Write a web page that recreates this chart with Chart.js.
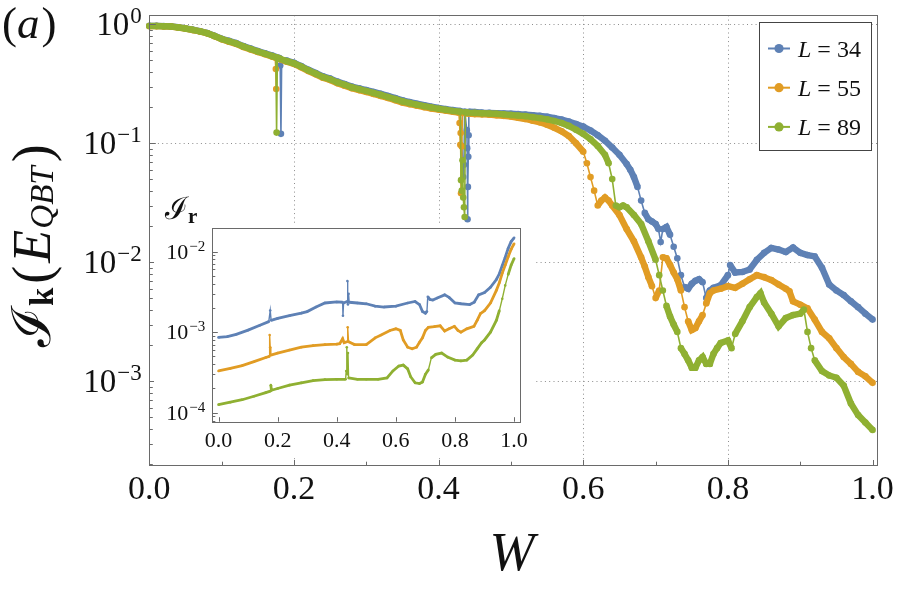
<!DOCTYPE html>
<html>
<head>
<meta charset="utf-8">
<script src="https://cdn.jsdelivr.net/npm/chart.js@4.4.1/dist/chart.umd.min.js"></script>
<style>
  body { margin: 0; background: #fff; }
  #wrap { position: relative; width: 900px; height: 589px; }
  #main { position: absolute; left: 0; top: 0; }
  #inset { position: absolute; left: 154px; top: 224px; }
</style>
</head>
<body>
<div id="wrap">
  <canvas id="main" width="900" height="589"></canvas>
  <canvas id="inset" width="380" height="234"></canvas>
</div>
<script>
/* ---------- data ---------- */
const seriesLabels = ['34', '55', '89'];

// main panel: [W, I_k]
const kBlue = [[0,0.97],[0.01,0.97],[0.02,0.965],[0.03,0.96],[0.04,0.945],[0.05,0.925],[0.06,0.9],[0.07,0.875],[0.08,0.845],[0.09,0.8],[0.1,0.755],[0.11,0.725],[0.12,0.695],[0.13,0.655],[0.14,0.625],[0.15,0.595],[0.16,0.57],[0.17,0.545],[0.18,0.52],[0.181,0.45],[0.182,0.12],[0.183,0.5],[0.19,0.495],[0.2,0.475],[0.21,0.445],[0.22,0.415],[0.23,0.39],[0.24,0.365],[0.25,0.35],[0.26,0.33],[0.27,0.315],[0.28,0.3],[0.29,0.29],[0.3,0.28],[0.31,0.27],[0.32,0.26],[0.33,0.25],[0.34,0.24],[0.35,0.23],[0.36,0.222],[0.37,0.215],[0.38,0.209],[0.39,0.203],[0.4,0.198],[0.41,0.194],[0.42,0.19],[0.43,0.187],[0.434,0.052],[0.435,0.066],[0.436,0.185],[0.439,0.129],[0.4395,0.091],[0.44,0.023],[0.4405,0.043],[0.441,0.077],[0.4415,0.117],[0.442,0.184],[0.45,0.183],[0.46,0.181],[0.47,0.18],[0.48,0.179],[0.49,0.178],[0.5,0.177],[0.51,0.176],[0.52,0.174],[0.53,0.172],[0.54,0.17],[0.55,0.167],[0.56,0.163],[0.57,0.158],[0.58,0.152],[0.59,0.145],[0.6,0.138],[0.61,0.128],[0.62,0.117],[0.63,0.105],[0.64,0.092],[0.65,0.08],[0.66,0.067],[0.665,0.06],[0.67,0.052],[0.675,0.043],[0.68,0.033],[0.685,0.026],[0.69,0.023],[0.695,0.022],[0.7,0.021],[0.704,0.019],[0.707,0.0148],[0.71,0.019],[0.715,0.0198],[0.72,0.017],[0.725,0.0135],[0.73,0.0108],[0.735,0.0078],[0.74,0.0062],[0.745,0.006],[0.75,0.0066],[0.755,0.007],[0.76,0.0072],[0.765,0.0068],[0.77,0.005],[0.775,0.0058],[0.78,0.0061],[0.79,0.0064],[0.8,0.0078],[0.803,0.0095],[0.81,0.0082],[0.82,0.0083],[0.83,0.0087],[0.84,0.0105],[0.85,0.012],[0.86,0.0132],[0.87,0.0128],[0.88,0.0122],[0.89,0.0133],[0.9,0.012],[0.91,0.0115],[0.92,0.0112],[0.93,0.009],[0.94,0.0065],[0.95,0.0058],[0.96,0.0053],[0.97,0.0047],[0.98,0.0042],[0.99,0.0037],[1,0.0033]];
const kOrange = [[0,0.965],[0.01,0.965],[0.02,0.96],[0.03,0.955],[0.04,0.94],[0.05,0.92],[0.06,0.895],[0.07,0.87],[0.08,0.84],[0.09,0.795],[0.1,0.748],[0.11,0.715],[0.12,0.685],[0.13,0.645],[0.14,0.615],[0.15,0.585],[0.16,0.56],[0.17,0.535],[0.174,0.525],[0.175,0.42],[0.1755,0.286],[0.176,0.52],[0.18,0.51],[0.19,0.485],[0.2,0.465],[0.21,0.435],[0.22,0.405],[0.23,0.38],[0.24,0.355],[0.25,0.34],[0.26,0.32],[0.27,0.305],[0.28,0.29],[0.29,0.28],[0.3,0.27],[0.31,0.26],[0.32,0.25],[0.33,0.24],[0.34,0.23],[0.35,0.22],[0.36,0.213],[0.37,0.207],[0.38,0.201],[0.39,0.196],[0.4,0.192],[0.41,0.188],[0.42,0.184],[0.428,0.181],[0.429,0.148],[0.43,0.097],[0.4305,0.122],[0.431,0.038],[0.432,0.094],[0.433,0.18],[0.44,0.178],[0.45,0.176],[0.46,0.175],[0.47,0.174],[0.48,0.172],[0.49,0.17],[0.5,0.168],[0.51,0.164],[0.52,0.16],[0.53,0.155],[0.54,0.15],[0.55,0.143],[0.56,0.135],[0.57,0.126],[0.58,0.115],[0.59,0.1],[0.6,0.085],[0.605,0.068],[0.61,0.052],[0.615,0.04],[0.62,0.03],[0.625,0.033],[0.63,0.035],[0.635,0.033],[0.64,0.03],[0.65,0.025],[0.66,0.019],[0.67,0.015],[0.68,0.011],[0.685,0.0092],[0.69,0.0075],[0.695,0.0063],[0.7,0.005],[0.705,0.0058],[0.71,0.011],[0.715,0.0108],[0.72,0.0095],[0.725,0.0082],[0.73,0.0072],[0.735,0.0058],[0.74,0.0042],[0.745,0.0032],[0.75,0.0027],[0.755,0.0028],[0.76,0.0032],[0.765,0.0036],[0.77,0.0045],[0.775,0.0055],[0.78,0.0058],[0.79,0.006],[0.8,0.0063],[0.81,0.0061],[0.82,0.0066],[0.83,0.0072],[0.84,0.0078],[0.85,0.0075],[0.86,0.0071],[0.87,0.0065],[0.88,0.006],[0.885,0.0057],[0.89,0.0047],[0.9,0.0044],[0.91,0.0041],[0.92,0.0033],[0.93,0.0026],[0.94,0.0023],[0.95,0.0019],[0.96,0.0016],[0.97,0.0014],[0.98,0.0012],[0.99,0.0011],[1,0.00097]];
const kGreen = [[0,0.968],[0.01,0.968],[0.02,0.962],[0.03,0.957],[0.04,0.942],[0.05,0.922],[0.06,0.898],[0.07,0.872],[0.08,0.842],[0.09,0.798],[0.1,0.752],[0.11,0.72],[0.12,0.69],[0.13,0.65],[0.14,0.62],[0.15,0.59],[0.16,0.565],[0.17,0.54],[0.175,0.528],[0.176,0.123],[0.177,0.525],[0.18,0.515],[0.19,0.49],[0.2,0.47],[0.21,0.44],[0.22,0.41],[0.23,0.385],[0.24,0.36],[0.25,0.345],[0.26,0.325],[0.27,0.31],[0.28,0.295],[0.29,0.285],[0.3,0.275],[0.31,0.265],[0.32,0.255],[0.33,0.245],[0.34,0.235],[0.35,0.225],[0.36,0.218],[0.37,0.211],[0.38,0.205],[0.39,0.2],[0.4,0.195],[0.41,0.191],[0.42,0.187],[0.43,0.184],[0.431,0.049],[0.432,0.04],[0.433,0.072],[0.434,0.035],[0.435,0.029],[0.436,0.024],[0.437,0.182],[0.44,0.181],[0.45,0.18],[0.46,0.179],[0.47,0.178],[0.48,0.177],[0.49,0.175],[0.5,0.173],[0.51,0.171],[0.52,0.169],[0.53,0.166],[0.54,0.163],[0.55,0.159],[0.56,0.154],[0.57,0.148],[0.58,0.14],[0.59,0.13],[0.6,0.12],[0.61,0.108],[0.62,0.095],[0.63,0.08],[0.635,0.068],[0.64,0.05],[0.645,0.03],[0.65,0.029],[0.655,0.03],[0.66,0.029],[0.67,0.025],[0.68,0.021],[0.69,0.015],[0.7,0.0105],[0.705,0.0078],[0.71,0.0058],[0.715,0.0043],[0.72,0.0035],[0.725,0.003],[0.73,0.0026],[0.735,0.0019],[0.74,0.0017],[0.745,0.0015],[0.75,0.0013],[0.755,0.0013],[0.76,0.0015],[0.765,0.0016],[0.77,0.0014],[0.775,0.0014],[0.78,0.0017],[0.785,0.0019],[0.79,0.0021],[0.8,0.0022],[0.805,0.0019],[0.81,0.0025],[0.82,0.0032],[0.83,0.0042],[0.84,0.0051],[0.845,0.0055],[0.85,0.0046],[0.86,0.0037],[0.87,0.0029],[0.88,0.0034],[0.89,0.0036],[0.9,0.0037],[0.905,0.004],[0.91,0.0026],[0.915,0.0019],[0.92,0.0015],[0.93,0.00122],[0.94,0.00112],[0.95,0.00107],[0.96,0.00092],[0.97,0.00065],[0.98,0.00052],[0.99,0.00045],[1,0.00039]];

// inset: [W, I_r]
const rBlue = [[0,8.6e-4],[0.03,8.8e-4],[0.06,9.4e-4],[0.1,1.06e-3],[0.14,1.22e-3],[0.17,1.35e-3],[0.175,1.85e-3],[0.178,1.4e-3],[0.2,1.48e-3],[0.24,1.6e-3],[0.28,1.72e-3],[0.3,1.8e-3],[0.33,2.05e-3],[0.36,2.3e-3],[0.4,2.37e-3],[0.42,2.35e-3],[0.421,1.6e-3],[0.423,2.3e-3],[0.435,2.4e-3],[0.436,4.3e-3],[0.438,2.2e-3],[0.44,3.0e-3],[0.442,2.35e-3],[0.47,2.3e-3],[0.5,2.25e-3],[0.53,2.1e-3],[0.56,2.05e-3],[0.6,2.1e-3],[0.64,2.3e-3],[0.665,2.4e-3],[0.68,2.2e-3],[0.69,1.8e-3],[0.7,1.72e-3],[0.705,1.8e-3],[0.708,2.75e-3],[0.715,2.55e-3],[0.725,2.5e-3],[0.74,2.65e-3],[0.765,2.9e-3],[0.78,2.7e-3],[0.8,2.3e-3],[0.82,2.25e-3],[0.85,2.2e-3],[0.865,2.35e-3],[0.88,2.9e-3],[0.9,3.1e-3],[0.92,3.6e-3],[0.94,4.5e-3],[0.95,5.3e-3],[0.96,6.7e-3],[0.97,8.5e-3],[0.98,1.1e-2],[0.99,1.33e-2],[1,1.48e-2]];
const rOrange = [[0,3.3e-4],[0.04,3.55e-4],[0.08,3.85e-4],[0.12,4.3e-4],[0.16,4.85e-4],[0.172,5.0e-4],[0.173,9.2e-4],[0.175,6.5e-4],[0.177,5.2e-4],[0.2,5.5e-4],[0.24,6.0e-4],[0.28,6.5e-4],[0.32,6.8e-4],[0.36,7.0e-4],[0.4,7.1e-4],[0.41,7.2e-4],[0.42,8.3e-4],[0.425,7.4e-4],[0.435,7.6e-4],[0.437,1.15e-3],[0.44,7.6e-4],[0.46,7.0e-4],[0.5,7.0e-4],[0.53,8.5e-4],[0.55,9.2e-4],[0.58,1.05e-3],[0.6,1.1e-3],[0.615,1.05e-3],[0.625,8.0e-4],[0.64,6.5e-4],[0.655,6.2e-4],[0.67,6.5e-4],[0.68,7.5e-4],[0.69,8.5e-4],[0.7,1.05e-3],[0.71,1.15e-3],[0.73,1.17e-3],[0.75,1.2e-3],[0.765,1.03e-3],[0.78,1.1e-3],[0.798,1.18e-3],[0.81,1.05e-3],[0.82,1.0e-3],[0.84,1.1e-3],[0.864,1.18e-3],[0.875,1.4e-3],[0.886,1.7e-3],[0.9,1.85e-3],[0.92,2.3e-3],[0.94,3.3e-3],[0.95,4.1e-3],[0.96,5.4e-3],[0.97,6.8e-3],[0.98,8.6e-3],[0.99,1.07e-2],[1,1.25e-2]];
const rGreen = [[0,1.26e-4],[0.04,1.35e-4],[0.08,1.45e-4],[0.12,1.6e-4],[0.16,1.78e-4],[0.175,1.85e-4],[0.177,2.2e-4],[0.179,1.9e-4],[0.2,2.0e-4],[0.24,2.2e-4],[0.28,2.35e-4],[0.32,2.5e-4],[0.36,2.58e-4],[0.4,2.6e-4],[0.43,2.6e-4],[0.432,3.3e-4],[0.434,6.5e-4],[0.436,3.0e-4],[0.438,5.5e-4],[0.44,2.7e-4],[0.47,2.6e-4],[0.5,2.6e-4],[0.54,2.6e-4],[0.57,2.7e-4],[0.59,3.3e-4],[0.61,3.8e-4],[0.625,3.9e-4],[0.64,3.5e-4],[0.65,2.8e-4],[0.665,2.35e-4],[0.68,2.3e-4],[0.69,2.4e-4],[0.7,3.0e-4],[0.71,3.4e-4],[0.72,4.8e-4],[0.735,5.3e-4],[0.755,5.5e-4],[0.775,4.9e-4],[0.8,4.5e-4],[0.82,4.4e-4],[0.84,4.5e-4],[0.86,5.2e-4],[0.875,6.2e-4],[0.89,7.4e-4],[0.9,8.0e-4],[0.92,1.0e-3],[0.94,1.4e-3],[0.95,1.85e-3],[0.96,2.6e-3],[0.97,3.8e-3],[0.98,5.2e-3],[0.99,6.8e-3],[1,8.2e-3]];

const mainXTicks = [0, 0.2, 0.4, 0.6, 0.8, 1.0];
const mainYTicks = [1e-3, 1e-2, 1e-1, 1];
const insetXTicks = [0, 0.2, 0.4, 0.6, 0.8, 1.0];
const insetYTicks = [1e-4, 1e-3, 1e-2];

/* ---------- styling ---------- */
const FONT = "'Liberation Serif', 'DejaVu Serif', serif";
const COLORS = ['#5E81B5', '#E19C24', '#8FB032'];
const FRAME = '#6a6a6a';

const toXY = arr => arr.map(p => ({ x: p[0], y: p[1] }));
const expText = v => String(Math.round(Math.log10(v))).replace('-', '\u2212');

function drawPieces(ctx, pieces, x, y) {
    let cx = x;
    pieces.forEach(p => {
        ctx.font = p.f;
        ctx.fillText(p.t, cx, y + (p.dy || 0));
        cx += ctx.measureText(p.t).width + (p.gap || 0);
    });
    return cx - x;
}

// "10" with a raised exponent, right aligned at xr, centred on yc
function drawPow(ctx, v, xr, yc, big, small) {
    ctx.save();
    ctx.textAlign = 'right';
    ctx.fillStyle = '#111';
    ctx.font = `${small}px ${FONT}`;
    const e = expText(v);
    ctx.fillText(e, xr, yc - big * 0.03);
    const ew = ctx.measureText(e).width;
    ctx.font = `${big}px ${FONT}`;
    ctx.fillText('10', xr - ew - 1, yc + big * 0.33);
    ctx.restore();
}

function hline(ctx, x1, x2, y) { ctx.beginPath(); ctx.moveTo(x1, Math.round(y) + 0.5); ctx.lineTo(x2, Math.round(y) + 0.5); ctx.stroke(); }
function vline(ctx, x, y1, y2) { ctx.beginPath(); ctx.moveTo(Math.round(x) + 0.5, y1); ctx.lineTo(Math.round(x) + 0.5, y2); ctx.stroke(); }

function minorLogValues(min, max) {
    const out = [];
    for (let d = -6; d <= 1; d++) {
        for (let m = 2; m <= 9; m++) {
            const v = m * Math.pow(10, d);
            if (v > min && v < max) out.push(v);
        }
    }
    return out;
}

// dense runs of dots read as a thick band, steep jumps as a thin joining line
const bandWidth = (wide, thin) => c => {
    const dx = Math.abs(c.p1.x - c.p0.x), dy = Math.abs(c.p1.y - c.p0.y);
    return dy > 2 * dx + 4 ? thin : wide;
};

/* ---------- main panel ---------- */
const mainDecor = {
    id: 'mainDecor',
    beforeDraw(chart) {
        const ctx = chart.ctx;
        ctx.save();
        ctx.fillStyle = '#fff';
        ctx.fillRect(0, 0, chart.width, chart.height);
        ctx.restore();
    },
    beforeDatasetsDraw(chart) {
        const { ctx, chartArea: a, scales: { x, y } } = chart;
        ctx.save();
        ctx.strokeStyle = '#8c8c8c';
        ctx.lineWidth = 1;
        ctx.setLineDash([1, 3.3]);
        mainXTicks.filter(v => v > 0 && v < 1).forEach(v => vline(ctx, x.getPixelForValue(v), a.top, a.bottom));
        mainYTicks.forEach(v => hline(ctx, a.left, a.right, y.getPixelForValue(v)));
        ctx.restore();
    },
    afterDatasetsDraw(chart) {
        const { ctx, chartArea: a, scales: { x, y } } = chart;
        ctx.save();
        // frame
        ctx.strokeStyle = FRAME;
        ctx.lineWidth = 1;
        ctx.strokeRect(Math.round(a.left) + 0.5, Math.round(a.top) + 0.5, Math.round(a.right - a.left), Math.round(a.bottom - a.top));
        // inward ticks
        mainXTicks.forEach(v => vline(ctx, x.getPixelForValue(v), a.bottom - 5, a.bottom));
        mainXTicks.slice(0, -1).forEach(v => vline(ctx, x.getPixelForValue(v + 0.1), a.bottom - 3.3, a.bottom));
        mainYTicks.forEach(v => hline(ctx, a.left, a.left + 6.5, y.getPixelForValue(v)));
        minorLogValues(y.min, y.max).forEach(v => hline(ctx, a.left, a.left + 3.5, y.getPixelForValue(v)));
        // y tick labels
        mainYTicks.forEach(v => drawPow(ctx, v, a.left - 7.5, y.getPixelForValue(v), 33, 23));

        ctx.fillStyle = '#111';
        ctx.textBaseline = 'alphabetic';
        // panel tag
        drawPieces(ctx, [
            { t: '(', f: `45px ${FONT}` },
            { t: 'a', f: `italic 45px ${FONT}`, gap: 2 },
            { t: ')', f: `45px ${FONT}` }
        ], 2, 38);
        // x title
        ctx.font = `italic 54px ${FONT}`;
        ctx.textAlign = 'center';
        ctx.fillText('W', 512, 570);
        ctx.textAlign = 'left';
        // y title, rotated
        ctx.save();
        ctx.translate(50, 347);
        ctx.rotate(-Math.PI / 2);
        drawPieces(ctx, [
            { t: '\u2110', f: `54px ${FONT}`, gap: 1 },
            { t: 'k', f: `bold 33px ${FONT}`, dy: 3, gap: 4 },
            { t: '(', f: `54px ${FONT}`, gap: 3 },
            { t: 'E', f: `italic 54px ${FONT}`, gap: 1 },
            { t: 'QBT', f: `italic 33px ${FONT}`, dy: 3, gap: 4 },
            { t: ')', f: `54px ${FONT}` }
        ], 0, 0);
        ctx.restore();
        // inset label
        drawPieces(ctx, [
            { t: '\u2110', f: `31px ${FONT}` },
            { t: 'r', f: `bold 21px ${FONT}`, dy: 4 }
        ], 165, 219);

        // legend
        const lx = 759.5, ly = 22.5, lw = 112, lh = 128;
        ctx.fillStyle = '#fff';
        ctx.fillRect(lx, ly, lw, lh);
        ctx.strokeStyle = '#444';
        ctx.lineWidth = 1;
        ctx.strokeRect(lx, ly, lw, lh);
        chart.data.datasets.forEach((ds, i) => {
            const cy = ly + 26 + i * 39.2;
            ctx.strokeStyle = ds.borderColor;
            ctx.lineWidth = 2;
            ctx.beginPath(); ctx.moveTo(768, cy); ctx.lineTo(790, cy); ctx.stroke();
            ctx.fillStyle = ds.borderColor;
            ctx.beginPath(); ctx.arc(779, cy, 4.6, 0, Math.PI * 2); ctx.fill();
            ctx.fillStyle = '#111';
            drawPieces(ctx, [
                { t: 'L', f: `italic 24px ${FONT}` },
                { t: ' = ' + seriesLabels[i], f: `24px ${FONT}` }
            ], 798, cy + 8);
        });
        ctx.restore();
    }
};

const mainDatasets = [kBlue, kOrange, kGreen].map((arr, i) => ({
    label: 'L = ' + seriesLabels[i],
    data: toXY(arr),
    borderColor: COLORS[i],
    backgroundColor: COLORS[i],
    pointBackgroundColor: COLORS[i],
    borderWidth: 6,
    segment: { borderWidth: bandWidth(6.4, 1.6) },
    pointRadius: 3.3,
    pointBorderWidth: 0,
    order: 3 - i,
    clip: false
}));

new Chart(document.getElementById('main'), {
    type: 'line',
    data: { datasets: mainDatasets },
    options: {
        responsive: false,
        animation: false,
        devicePixelRatio: 1,
        layout: { padding: { left: 0, right: 22.7, top: 15.3, bottom: 0 } },
        plugins: { legend: { display: false }, tooltip: { enabled: false } },
        scales: {
            x: {
                type: 'linear', min: 0, max: 1.0065,
                afterFit(s) { s.height = 124; },
                afterBuildTicks(s) { s.ticks = mainXTicks.map(v => ({ value: v })); },
                grid: { display: false, drawTicks: false },
                border: { display: false },
                ticks: { padding: 5, color: '#111', font: { family: FONT, size: 34 }, maxRotation: 0, autoSkip: false, callback: v => v.toFixed(1) }
            },
            y: {
                type: 'logarithmic', min: 1.98e-4, max: 1.19,
                afterFit(s) { s.width = 149.3; },
                afterBuildTicks(s) { s.ticks = mainYTicks.map(v => ({ value: v })); },
                grid: { display: false, drawTicks: false },
                border: { display: false },
                ticks: { display: false }
            }
        }
    },
    plugins: [mainDecor]
});

/* ---------- inset ---------- */
const insetDecor = {
    id: 'insetDecor',
    beforeDraw(chart) {
        const ctx = chart.ctx;
        ctx.save();
        ctx.fillStyle = '#fff';
        ctx.fillRect(0, 0, chart.width, chart.height);
        ctx.restore();
    },
    afterDatasetsDraw(chart) {
        const { ctx, chartArea: a, scales: { x, y } } = chart;
        ctx.save();
        ctx.strokeStyle = FRAME;
        ctx.lineWidth = 1;
        ctx.strokeRect(Math.round(a.left) + 0.5, Math.round(a.top) + 0.5, Math.round(a.right - a.left), Math.round(a.bottom - a.top));
        insetXTicks.forEach(v => vline(ctx, x.getPixelForValue(v), a.bottom - 4.5, a.bottom));
        insetYTicks.forEach(v => hline(ctx, a.left, a.left + 5.5, y.getPixelForValue(v)));
        minorLogValues(y.min, y.max).forEach(v => hline(ctx, a.left, a.left + 3, y.getPixelForValue(v)));
        insetYTicks.forEach(v => drawPow(ctx, v, a.left - 7, y.getPixelForValue(v), 22, 15));
        ctx.restore();
    }
};

const insetDatasets = [rBlue, rOrange, rGreen].map((arr, i) => ({
    label: 'L = ' + seriesLabels[i],
    data: toXY(arr),
    borderColor: COLORS[i],
    backgroundColor: COLORS[i],
    pointBackgroundColor: COLORS[i],
    borderWidth: 2.6,
    segment: { borderWidth: bandWidth(2.8, 1.4) },
    pointRadius: 1.3,
    pointBorderWidth: 0,
    order: 3 - i
}));

new Chart(document.getElementById('inset'), {
    type: 'line',
    data: { datasets: insetDatasets },
    options: {
        responsive: false,
        animation: false,
        devicePixelRatio: 1,
        layout: { padding: { left: 0, right: 6.7, top: 3.3, bottom: 0 } },
        plugins: { legend: { display: false }, tooltip: { enabled: false } },
        scales: {
            x: {
                type: 'linear', min: -0.021, max: 1.022,
                afterFit(s) { s.height = 36.3; },
                afterBuildTicks(s) { s.ticks = insetXTicks.map(v => ({ value: v })); },
                grid: { display: false, drawTicks: false },
                border: { display: false },
                ticks: { padding: 6, color: '#111', font: { family: FONT, size: 22 }, maxRotation: 0, autoSkip: false, callback: v => v.toFixed(1) }
            },
            y: {
                type: 'logarithmic', min: 7.74e-5, max: 0.0196,
                afterFit(s) { s.width = 58.3; },
                afterBuildTicks(s) { s.ticks = insetYTicks.map(v => ({ value: v })); },
                grid: { display: false, drawTicks: false },
                border: { display: false },
                ticks: { display: false }
            }
        }
    },
    plugins: [insetDecor]
});
</script>
</body>
</html>
